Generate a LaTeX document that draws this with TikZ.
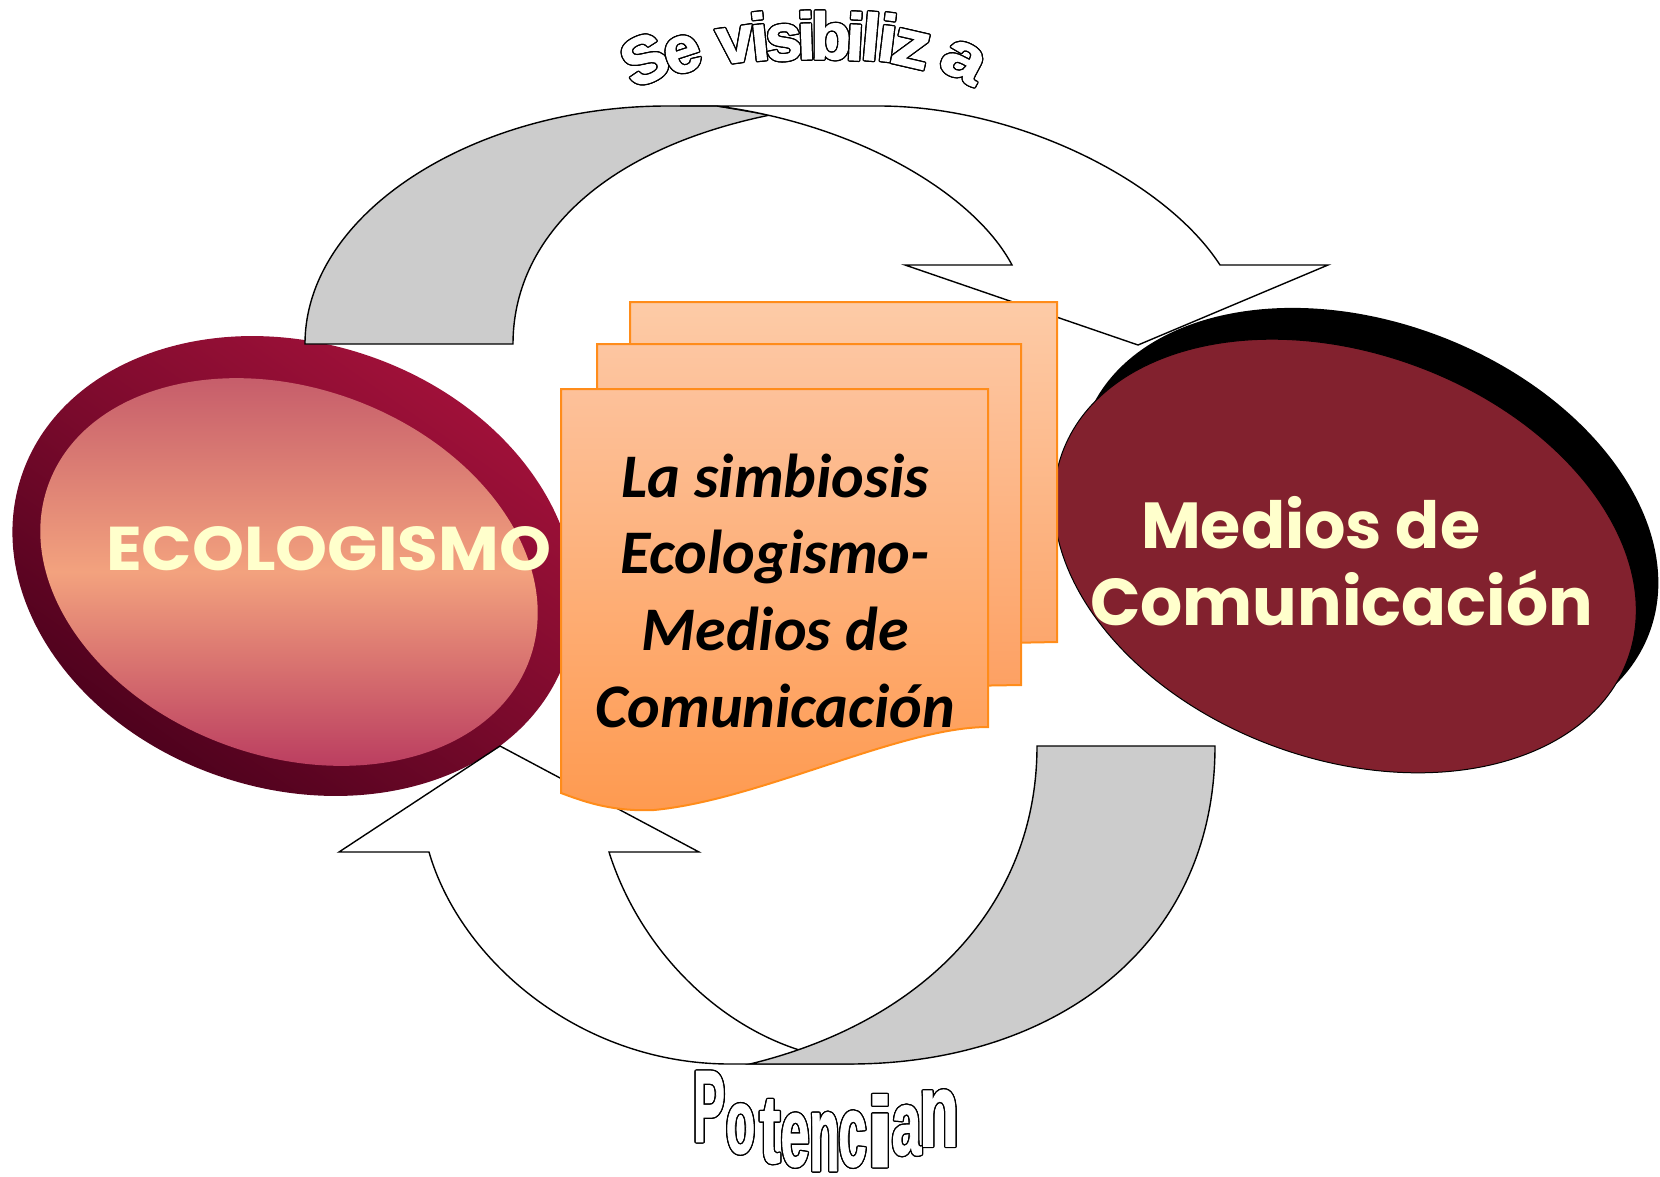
\documentclass[tikz,border=0pt]{standalone}
\usepackage{fontspec}
\usepackage{graphicx}
\usepackage[copies]{contour}
\newfontfamily\decofont{Poppins}
\newfontfamily\calfont{Carlito}
\newfontfamily\wafont{Liberation Sans}[BoldFeatures={FakeBold=1.5}]
\definecolor{cream}{HTML}{FFFFCC}
\definecolor{arrowgray}{HTML}{CCCCCC}
\definecolor{docline}{HTML}{FF8C1A}
\definecolor{faceR}{HTML}{82212E}
\definecolor{lTop}{HTML}{A8123C}
\definecolor{lMid}{HTML}{7A0A2C}
\definecolor{lBot}{HTML}{45001A}
\definecolor{fTop}{HTML}{C05468}
\definecolor{fMid}{HTML}{F3A27E}
\definecolor{fBot}{HTML}{B3305C}
\definecolor{dAt}{HTML}{FDCBA7}
\definecolor{dAb}{HTML}{FCA66C}
\definecolor{dBt}{HTML}{FDC6A1}
\definecolor{dBb}{HTML}{FDA062}
\definecolor{dCt}{HTML}{FDC19A}
\definecolor{dCb}{HTML}{FE9A50}
\contourlength{1.3pt}
\begin{document}
\begin{tikzpicture}[x=1pt,y=-1pt,
  arrowface/.style={draw=black, line width=1.4pt, line join=miter},
  docface/.style={draw=docline, line width=2pt, line join=miter},
  ctext/.style={anchor=base, inner sep=0pt, font=\calfont\bfseries\itshape\fontsize{62}{74}\selectfont},
  deco/.style={anchor=base west, inner sep=0pt, text=cream, font=\decofont\bfseries\fontsize{67}{80}\selectfont},
  wa/.style={anchor=base, inner sep=0pt, text=white, font=\wafont\bfseries\fontsize{66}{66}\selectfont},
  wb/.style={anchor=base, inner sep=0pt, text=white, font=\wafont\bfseries\fontsize{96}{96}\selectfont}]
\useasboundingbox (0,0) rectangle (1660,1176);

% ---------- left disk ----------
\shade[top color=lTop, bottom color=lBot, middle color=lMid, shading angle=-35,
  rotate around={-18:(294,566)}] (294,566) ellipse [x radius=287, y radius=223];
\shade[top color=fTop, bottom color=fBot, middle color=fMid,
  rotate around={-20:(289,572)}] (289,572) ellipse [x radius=256, y radius=184];

% ---------- right disk ----------
\fill[black, rotate around={-21:(1368,526)}] (1368,526) ellipse [x radius=301, y radius=203];
\draw[fill=faceR, draw=black, line width=1pt, rotate around={-20:(1345,556)}] (1345,556) ellipse [x radius=301, y radius=203];

% ---------- top arrow ----------
\draw[arrowface, fill=arrowgray] (305,344) .. controls (305,212) and (476,106) .. (667,106)
  -- (717,106) -- (770,115) .. controls (600,150) and (513,240) .. (513,344) -- cycle;
\draw[arrowface, fill=white] (680,106) -- (879,106) .. controls (1016,106) and (1165,180) .. (1220,265)
  -- (1328,265) -- (1138,345) -- (905,265) -- (1012,265)
  .. controls (975,195) and (860,125) .. (717,106) -- cycle;

% ---------- bottom arrow ----------
\draw[arrowface, fill=white] (850,1064) -- (730,1064) .. controls (580,1064) and (460,960) .. (429,852)
  -- (339,852) -- (500,746) -- (699,852) -- (609,852)
  .. controls (640,950) and (720,1030) .. (813,1054) -- cycle;
\draw[arrowface, fill=arrowgray] (1037,746) -- (1215,746) .. controls (1215,950) and (1050,1064) .. (850,1064)
  -- (750,1064) .. controls (930,1020) and (1037,900) .. (1037,746) -- cycle;

% ---------- stacked documents ----------
\draw[docface, top color=dAt, bottom color=dAb] (630,302) -- (1057,302) -- (1057,642) -- (630,650) -- cycle;
\draw[docface, top color=dBt, bottom color=dBb] (597,344) -- (1021,344) -- (1021,685) -- (597,692) -- cycle;
\draw[docface, top color=dCt, bottom color=dCb] (561,389) -- (988,389) -- (988,727)
  .. controls (900,727) and (760,800) .. (654,810)
  .. controls (610,812) and (580,800) .. (561,793) -- cycle;

% ---------- texts ----------
\node[ctext] (c1) at (775,497) {La simbiosis};
\node[ctext] (c2) at (775,573) {Ecologismo-};
\node[ctext] (c3) at (775,650) {Medios de};
\node[ctext] (c4) at (775,727) {Comunicación};

\node[deco] (eco) at (106,570) {\resizebox{445pt}{44pt}{ECOLOGISMO}};
\node[deco] (med1) at (1141,548) {\resizebox{339pt}{!}{Medios de}};
\node[deco] (med2) at (1090,625) {\resizebox{503pt}{!}{Comunicación}};

% ---------- WordArt: Se visibiliza ----------
\foreach \ch/\x/\y/\r/\xs [count=\k] in {S/654/80/25/1, e/688/71/18/1, v/738/62/8/1, i/762/60/6/1,
  s/785/60/4/1, i/807/59/2/1, b/831/59/0/1, i/854/60/-3/1, l/869/60/-5/1, i/885/61/-7/1,
  z/907/66/-13/1.15, a/955/77/-28/1.15}
  {\node[wa, rotate=\r] (sv\k) at (\x,\y) {\contour{black}{\scalebox{\xs}[1]{\ch}}};}

% ---------- WordArt: Potencian ----------
\foreach \ch/\x/\y/\xs/\ys [count=\k] in {P/709/1141.5/0.5/1.06, o/740.5/1153/0.5/0.95,
  t/770/1162.5/0.65/1.0, e/795/1166/0.54/1.02, n/824.5/1170.5/0.52/1.12,
  c/852.5/1166/0.53/1.06, i/880/1166.5/1.05/1.03, a/906.5/1154.5/0.55/0.95, n/939/1146/0.68/1.08}
  {\node[wb] (pt\k) at (\x,\y) {\contour{black}{\scalebox{\xs}[\ys]{\ch}}};}
\end{tikzpicture}
\end{document}
